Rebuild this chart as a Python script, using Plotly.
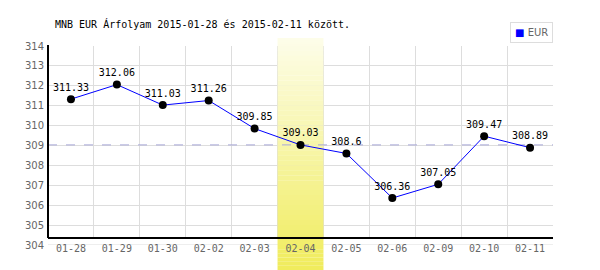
import plotly.graph_objects as go

dates = ["01-28", "01-29", "01-30", "02-02", "02-03", "02-04", "02-05", "02-06", "02-09", "02-10", "02-11"]
eur = [311.33, 312.06, 311.03, 311.26, 309.85, 309.03, 308.6, 306.36, 307.05, 309.47, 308.89]
highlight_index = 5
reference_value = 309.03
y_ticks = [304, 305, 306, 307, 308, 309, 310, 311, 312, 313, 314]
title_text = "MNB EUR Árfolyam 2015-01-28 és 2015-02-11 között."
series_name = "EUR"

W, H = 600, 270
L, R, T, B = 48, 47, 46, 25
plot_h = H - T - B
ymin, ymax = y_ticks[0], y_ticks[-1]

def px_to_paper(py):
    return (H - B - py) / plot_h

def px_to_y(py):
    return ymin + (ymax - ymin) * px_to_paper(py)

fig = go.Figure()
fig.add_trace(go.Scatter(
    x=dates, y=eur, mode="lines+markers+text",
    text=[f"{v:g}" for v in eur], textposition="top center",
    textfont=dict(family="DejaVu Sans Mono", size=10, color="#000"),
    line=dict(color="#0000ff", width=1),
    marker=dict(color="#000", size=8),
    cliponaxis=False, showlegend=False, hoverinfo="x+y",
))

shapes = []
axis_px = 238
# hide vertical gridlines below the x axis line, keep the bottom horizontal gridline
shapes.append(dict(type="rect", xref="x", yref="y", x0=-0.6, x1=len(dates) - 0.4,
                   y0=ymin - 0.1, y1=px_to_y(axis_px), layer="between",
                   fillcolor="#fff", line=dict(width=0)))
shapes.append(dict(type="line", xref="x", yref="y", x0=-0.5, x1=len(dates) - 0.5,
                   y0=ymin, y1=ymin, layer="between", line=dict(color="#dddddd", width=1)))

# gradient highlight band
top_c = (253, 253, 234)
bot_c = (240, 236, 92)
band_top_px, band_bot_px = 38, 270
def col(py):
    t = (py - band_top_px) / (band_bot_px - band_top_px)
    c = [round(a + (b - a) * t) for a, b in zip(top_c, bot_c)]
    return f"rgb({c[0]},{c[1]},{c[2]})"

x0b, x1b = highlight_index - 0.5, highlight_index + 0.5
steps = 4
for i in range(steps):
    p0 = band_top_px + (T - band_top_px) * i / steps
    p1 = band_top_px + (T - band_top_px) * (i + 1) / steps
    shapes.append(dict(type="rect", xref="x", yref="paper", x0=x0b, x1=x1b,
                       y0=px_to_paper(p1), y1=px_to_paper(p0), layer="below",
                       fillcolor=col((p0 + p1) / 2), line=dict(width=0)))
steps = 40
for i in range(steps):
    p0 = T + plot_h * i / steps
    p1 = T + plot_h * (i + 1) / steps
    shapes.append(dict(type="rect", xref="x", yref="y", x0=x0b, x1=x1b,
                       y0=px_to_y(p1) - (0.05 if i == steps - 1 else 0), y1=px_to_y(p0) + 0.01,
                       layer="between", fillcolor=col((p0 + p1) / 2), line=dict(width=0)))
steps = 6
for i in range(steps):
    p0 = H - B + (band_bot_px - (H - B)) * i / steps
    p1 = H - B + (band_bot_px - (H - B)) * (i + 1) / steps
    shapes.append(dict(type="rect", xref="x", yref="paper", x0=x0b, x1=x1b,
                       y0=px_to_paper(p1), y1=px_to_paper(p0), layer="below",
                       fillcolor=col((p0 + p1) / 2), line=dict(width=0)))

# dashed reference line
shapes.append(dict(type="line", xref="x", yref="y", x0=-0.5, x1=len(dates) - 0.5,
                   y0=reference_value, y1=reference_value, layer="between",
                   line=dict(color="#a8a8d8", width=1, dash="dash")))
# axis lines
axis_y = px_to_paper(axis_px)
shapes.append(dict(type="line", xref="paper", yref="paper", x0=0, x1=1, y0=axis_y, y1=axis_y,
                   layer="above", line=dict(color="#000", width=2)))
shapes.append(dict(type="line", xref="paper", yref="paper", x0=0, x1=0, y0=axis_y, y1=px_to_paper(45),
                   layer="above", line=dict(color="#000", width=2)))

annotations = [
    dict(text=title_text, xref="paper", yref="paper", x=(53 - L) / (W - L - R), y=px_to_paper(24),
         xanchor="left", yanchor="middle", showarrow=False,
         font=dict(family="DejaVu Sans Mono", size=10, color="#000")),
    dict(text="<span style='color:#0000ff'>■</span> " + series_name, xref="paper", yref="paper",
         x=1, y=px_to_paper(43), xanchor="right", yanchor="bottom", showarrow=False,
         bordercolor="#dddddd", borderwidth=1, borderpad=4, bgcolor="#fff",
         font=dict(family="DejaVu Sans", size=10, color="#666")),
]

fig.update_layout(
    width=W, height=H, margin=dict(l=L, r=R, t=T, b=B, pad=0),
    paper_bgcolor="#fff", plot_bgcolor="#fff",
    shapes=shapes, annotations=annotations, showlegend=False,
    xaxis=dict(type="category", tickson="boundaries", showgrid=True, gridcolor="#dddddd", gridwidth=1,
               showline=False, zeroline=False, ticks="", range=[-0.5, len(dates) - 0.5],
               tickfont=dict(family="DejaVu Sans Mono", size=10, color="#666"),
               ticklabelstandoff=-4, fixedrange=True),
    yaxis=dict(range=[ymin, ymax], tickvals=y_ticks, showgrid=True, gridcolor="#dddddd", gridwidth=1,
               showline=False, zeroline=False, ticks="",
               tickfont=dict(family="DejaVu Sans", size=10, color="#666"),
               ticklabelstandoff=3, fixedrange=True),
)
fig.write_html("out.html")
